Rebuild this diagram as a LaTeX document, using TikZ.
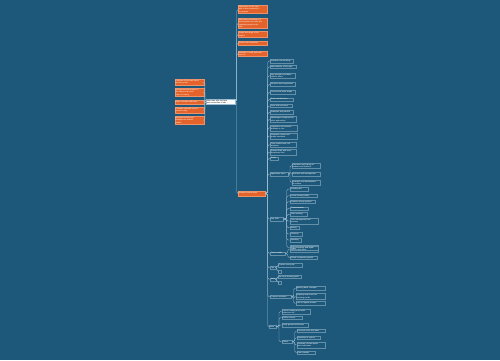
\documentclass[tikz,border=0pt]{standalone}
\usepackage{fontspec}
\setmainfont{Liberation Sans}
\definecolor{bg}{HTML}{1D5779}
\definecolor{org}{HTML}{E4632A}
\definecolor{ln}{HTML}{9CBDD1}
\tikzset{
  base/.style={font=\fontsize{1.88}{2.3}\selectfont, align=left, inner xsep=0.8pt, inner ysep=0.9pt, anchor=west},
  onode/.style={base, fill=org, text=white, draw=org!70!white, line width=0.2pt},
  cnode/.style={base, fill=white, text=black, draw=ln, line width=0.2pt},
  leaf/.style={base, text=white, draw=ln!55!bg, line width=0.25pt},
  conn/.style={draw=ln, line width=0.35pt, rounded corners=1.5pt},
}
\newcommand\lf[6][leaf]{\pgfmathsetmacro\tw{#5-1.6}\node[#1,text width=\tw pt] (#2) at (#3,#4) {#6};}
\begin{document}
\begin{tikzpicture}[x=1pt,y=-1pt]
\fill[bg] (0,0) rectangle (500,360);
\useasboundingbox (0,0) rectangle (500,360);
% central
\lf[cnode]{c}{206}{101.5}{29}{Main topic title text here\\and second line of title}
% left
\lf[onode]{l1}{174.7}{82.3}{29}{Overview of the main ideas\\and key points}
\lf[onode]{l2}{174.7}{92.3}{29}{Background and context of\\the subject with short\\notes on history}
\lf[onode]{l3}{174.7}{101.9}{29}{Basic concepts and terms}
\lf[onode]{l4}{174.7}{110.2}{29}{Common methods used in\\practice today}
\lf[onode]{l5}{174.7}{120.2}{29}{Important results and\\findings from related\\studies}
% top
\lf[onode]{t1}{238}{9.5}{28.5}{Introduction to the topic\\with a short summary of\\its purpose}
\lf[onode]{t2}{238}{23.3}{28.5}{Main theory and history of\\development over time and\\important people in the\\field}
\lf[onode]{t3}{238}{34.5}{28.5}{Scope and range of the\\subject}
\lf[onode]{t4}{238}{43.2}{28.5}{Goals of this summary}
\lf[onode]{t5}{238}{53.5}{28.5}{Methods of study and main\\sources}
% lower orange
\node[onode,text width=25.4pt,inner ysep=1.3pt] (o) at (238,193.5) {Detailed content parts};
% right leaves
\lf{r1}{270}{61}{23}{Definition and meaning}
\lf{r2}{270}{66.7}{25.7}{Main features of the topic}
\lf{r3}{270}{75.7}{25}{Key principles and basic\\rules to follow}
\lf{r4}{270}{84.3}{25}{Structure and components}
\lf{r5}{270}{92.3}{25}{Process and main stages}
\lf{r6}{270}{99.3}{23}{Roles and functions}
\lf{r7}{270}{106}{22}{Tools and resources}
\lf{r8}{270}{112.3}{23}{Examples and practice}
\lf{r9}{270}{119.5}{25.5}{Advantages compared with\\other approaches}
\lf{r10}{270}{127.8}{26.7}{Limitations and common\\problems in use}
\lf{r11}{270}{136}{27}{Evaluation criteria and\\quality standards}
\lf{r12}{270}{144.7}{26}{Case studies from real\\situations}
\lf{r13}{270}{152.2}{26}{Related fields and cross\\disciplinary links}
\lf{r14}{270}{158.3}{8}{Notes}
% group 1
\lf{g1}{270}{174}{18}{Application areas}
\lf{g1a}{291.7}{165.5}{28.3}{Education and training of\\students and teachers}
\lf{g1b}{291.7}{174}{28.3}{Business and management}
\lf{g1c}{291.7}{182.5}{28.3}{Research and development\\in science}
% group 2
\lf{g2}{270}{219}{13}{Key skills}
\lf{g2a}{290}{189}{18}{Reading skill}
\lf{g2b}{290}{195.7}{27}{Critical thinking ability}
\lf{g2c}{290}{201.7}{25}{Problem solving method}
\lf{g2d}{290}{208.3}{18}{Communication}
\lf{g2e}{290}{214.3}{17}{Team working}
\lf{g2f}{290}{221}{28}{Time management and\\planning}
\lf{g2g}{290}{227.7}{8.5}{Writing}
\lf{g2h}{290}{234}{12}{Listening}
\lf{g2i}{290}{240}{10.5}{Speaking}
\lf{g2j}{290}{247.5}{28}{Self learning and reflection\\habits}
% group 3
\lf{g3}{270}{253.3}{15}{Future trends}
\lf{g3a}{290}{249}{28}{New technology and digital\\tools in daily work}
\lf{g3b}{290}{257.7}{27}{Global cooperation growth}
% group 4
\lf{g4}{270}{267.7}{5.7}{Tips}
\lf{g4a}{278}{265}{24}{Practice every day}
\node[leaf,minimum width=3pt,minimum height=3pt] (g4b) at (278,271.5) {};
% group 5
\lf{g5}{270}{279.3}{5.9}{Aims}
\lf{g5a}{278}{276.7}{23}{Set clear learning goals}
\node[leaf,minimum width=3pt,minimum height=3pt] (g5b) at (278,282.8) {};
% group 6
\lf{g6}{270}{296.7}{21}{Common mistakes}
\lf{g6a}{295.7}{288.3}{29.3}{Ignoring basic concepts}
\lf{g6b}{295.7}{296.5}{29.3}{Skipping review and not\\checking results}
\lf{g6c}{295.7}{303.3}{29.3}{Lack of regular practice}
% group 7
\lf{g7}{269}{326.7}{6.5}{More}
\lf{g7a}{281.7}{311.5}{28.3}{Further reading and useful\\references list}
\lf{g7b}{281.7}{317.7}{20.3}{Online courses}
\lf{g7c}{281.7}{325}{26.3}{Study groups and forums}
\lf{g7d}{281.7}{341.7}{10.3}{Others}
\lf{g7da}{296.7}{331}{28.3}{Personal notes and ideas}
\lf{g7db}{296.7}{337.7}{23.3}{Questions to explore}
\lf{g7dc}{296.7}{345}{28.3}{Summary of main points\\and conclusions}
\lf{g7dd}{296.7}{352.7}{18.3}{Final remarks}
% connectors
\foreach \n in {l1,l2,l3,l4,l5} \draw[conn] (c.west) -- ++(-1.1,0) |- (\n.east);
\foreach \n in {t1,t2,t3,t4,t5,o} \draw[conn] (c.east) -- ++(1.5,0) |- (\n.west);
\foreach \n in {r1,r2,r3,r4,r5,r6,r7,r8,r9,r10,r11,r12,r13,r14,g1,g2,g3,g4,g5,g6,g7} \draw[conn] (o.east) -- ++(2.5,0) |- (\n.west);
\foreach \n in {g1a,g1b,g1c} \draw[conn] (g1.east) -- ++(1.8,0) |- (\n.west);
\foreach \n in {g2a,g2b,g2c,g2d,g2e,g2f,g2g,g2h,g2i,g2j} \draw[conn] (g2.east) -- ++(3.5,0) |- (\n.west);
\foreach \n in {g3a,g3b} \draw[conn] (g3.east) -- ++(2.5,0) |- (\n.west);
\foreach \n in {g4a,g4b} \draw[conn] (g4.east) -- ++(1.1,0) |- (\n.west);
\foreach \n in {g5a,g5b} \draw[conn] (g5.east) -- ++(1,0) |- (\n.west);
\foreach \n in {g6a,g6b,g6c} \draw[conn] (g6.east) -- ++(2.3,0) |- (\n.west);
\foreach \n in {g7a,g7b,g7c,g7d} \draw[conn] (g7.east) -- ++(3.2,0) |- (\n.west);
\foreach \n in {g7da,g7db,g7dc,g7dd} \draw[conn] (g7d.east) -- ++(2.5,0) |- (\n.west);
\end{tikzpicture}
\end{document}
